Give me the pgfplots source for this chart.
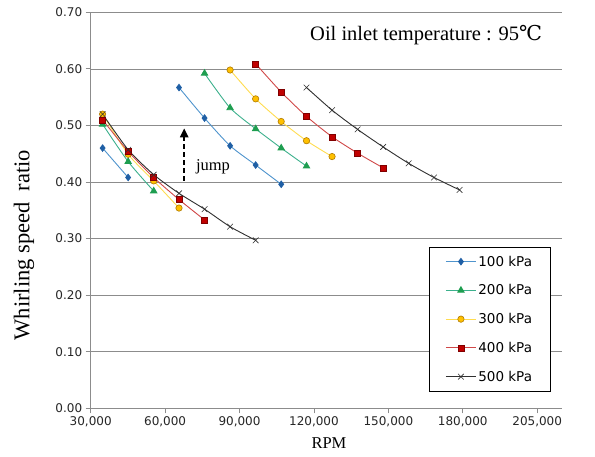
\documentclass[border=0pt]{standalone}
\usepackage{fontspec}
\setmainfont{Liberation Serif}
\newfontfamily\tickfont{DejaVu Sans}
\newfontfamily\symfont{DejaVu Serif}
\usepackage{pgfplots}
\pgfplotsset{compat=1.18}
\usetikzlibrary{arrows.meta}

\definecolor{bline}{HTML}{4F94CD}
\definecolor{bmark}{HTML}{1F5FA5}
\definecolor{gline}{HTML}{3CB08C}
\definecolor{gmark}{HTML}{1E9E50}
\definecolor{yline}{HTML}{FFDC50}
\definecolor{ymark}{HTML}{FFC000}
\definecolor{yedge}{HTML}{B07A00}
\definecolor{rline}{HTML}{D04848}
\definecolor{rmark}{HTML}{C00000}
\definecolor{redge}{HTML}{800000}
\definecolor{kline}{HTML}{303030}
\definecolor{gridc}{HTML}{8C8C8C}

\begin{document}
\begin{tikzpicture}
\path[use as bounding box] (0,0) rectangle (595pt,456pt);
\begin{axis}[
  at={(90.7pt,47.7pt)}, anchor=south west,
  scale only axis, width=471.3pt, height=396pt,
  xmin=30000, xmax=220000, ymin=0, ymax=0.70,
  axis x line=bottom, axis y line=left,
  axis line style={-, gridc, line width=0.8pt},
  xtick={30000,60000,90000,120000,150000,180000,210000},
  xticklabels={{30,000},{60,000},{90,000},{120,000},{150,000},{180,000},{205,000}},
  ytick={0,0.1,0.2,0.3,0.4,0.5,0.6,0.7},
  yticklabel style={/pgf/number format/.cd, fixed, fixed zerofill, precision=2},
  /pgf/number format/assume math mode=true,
  scaled x ticks=false, scaled y ticks=false,
  tick label style={font=\tickfont\fontsize{12}{14}\selectfont, text=black!85},
  tick align=outside, major tick length=5pt,
  tick style={gridc, line width=0.8pt},
  ymajorgrids, grid style={gridc, line width=0.7pt},
  xlabel={RPM}, ylabel={Whirling speed\hspace{0.5em}ratio},
  xlabel style={at={(rel axis cs:0.5056,-0.0876)}, anchor=center, font=\fontsize{16.5}{18}\selectfont},
  ylabel style={at={(rel axis cs:-0.1415,0.412)}, anchor=center, font=\fontsize{22.5}{25}\selectfont},
  legend style={at={(rel axis cs:0.718,0.4077)}, anchor=north west, draw=black, line width=0.8pt,
    font=\tickfont\fontsize{13.5}{15}\selectfont, row sep=13pt, inner xsep=16pt, inner ysep=6.5pt},
  legend cell align=left,
  legend image code/.code={\draw[mark repeat=2, mark phase=2, #1] plot coordinates {(0pt,0pt) (15pt,0pt) (30pt,0pt)};},
  every axis plot/.append style={line width=0.9pt, smooth, tension=0.4},
]
% 100 kPa
\addplot[bline, mark=diamond*, mark size=3.2pt, mark options={fill=bmark, draw=bmark}] coordinates {
 (34800,0.460) (45100,0.408)};
\addlegendentry{100 kPa}
\addplot[bline, mark=diamond*, mark size=3.2pt, mark options={fill=bmark, draw=bmark}, forget plot] coordinates {
 (65600,0.567) (75900,0.513) (86200,0.464) (96500,0.430) (106800,0.396)};
% 200 kPa
\addplot[gline, mark=triangle*, mark size=3.6pt, mark options={fill=gmark, draw=gmark}] coordinates {
 (34800,0.502) (45100,0.436) (55400,0.384)};
\addlegendentry{200 kPa}
\addplot[gline, mark=triangle*, mark size=3.6pt, mark options={fill=gmark, draw=gmark}, forget plot] coordinates {
 (75900,0.592) (86200,0.531) (96500,0.494) (106800,0.460) (117000,0.428)};
% 300 kPa
\addplot[yline, mark=*, mark size=3.2pt, mark options={fill=ymark, draw=yedge, line width=0.6pt}] coordinates {
 (34800,0.520) (45100,0.449) (55400,0.402) (65600,0.354)};
\addlegendentry{300 kPa}
\addplot[yline, mark=*, mark size=3.2pt, mark options={fill=ymark, draw=yedge, line width=0.6pt}, forget plot] coordinates {
 (86200,0.598) (96500,0.547) (106800,0.507) (117000,0.473) (127300,0.445)};
% 400 kPa
\addplot[rline, mark=square*, mark size=3pt, mark options={fill=rmark, draw=redge, line width=0.5pt}] coordinates {
 (34800,0.510) (45100,0.454) (55400,0.408) (65600,0.369) (75900,0.333)};
\addlegendentry{400 kPa}
\addplot[rline, mark=square*, mark size=3pt, mark options={fill=rmark, draw=redge, line width=0.5pt}, forget plot] coordinates {
 (96500,0.609) (106800,0.559) (117000,0.516) (127300,0.480) (137600,0.451) (147900,0.425)};
% 500 kPa
\addplot[kline, mark=x, mark size=4pt, mark options={draw=kline, line width=0.6pt}] coordinates {
 (34800,0.520) (45100,0.457) (55400,0.413) (65600,0.380) (75900,0.352) (86200,0.321) (96500,0.297)};
\addlegendentry{500 kPa}
\addplot[kline, mark=x, mark size=4pt, mark options={draw=kline, line width=0.6pt}, forget plot] coordinates {
 (117000,0.567) (127300,0.527) (137600,0.493) (147900,0.462) (158200,0.433) (168400,0.408) (178700,0.386)};
% jump arrow
\draw[-{Triangle[length=9pt,width=8pt]}, line width=2.4pt, dash pattern=on 5pt off 3pt]
  (axis cs:67700,0.402) -- (axis cs:67700,0.495);
\node[anchor=west, font=\fontsize{16.5}{18}\selectfont, inner sep=0pt] at (axis cs:72400,0.427) {jump};
\end{axis}
\node[anchor=west, inner sep=0pt, font=\fontsize{20.5}{22}\selectfont] at (310pt,421pt) {Oil inlet temperature : 95{\symfont ℃}};
\end{tikzpicture}
\end{document}
